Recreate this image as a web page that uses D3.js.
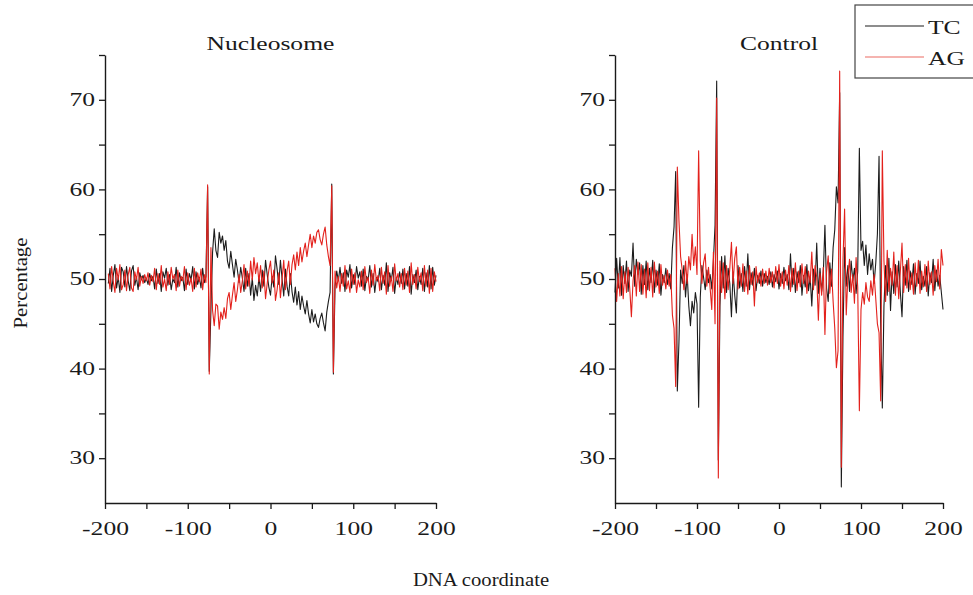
<!DOCTYPE html>
<html>
<head>
<meta charset="utf-8">
<script src="https://cdn.jsdelivr.net/npm/d3@7/dist/d3.min.js"></script>
<style>
  html, body { margin: 0; padding: 0; background: #fff; }
  body { position: relative; width: 973px; height: 595px; overflow: hidden; }
  svg { display: block; }
  #ytitle {
    position: absolute; left: 21px; top: 283px;
    font-family: 'Liberation Serif', 'Times New Roman', serif; font-size: 18px; line-height: 18px;
    color: #1a1a1a; white-space: nowrap;
    transform: translate(-50%, -50%) rotate(-90deg) scaleX(1.15);
  }
</style>
</head>
<body>
<script>
// ---------------- DATA ----------------
const xTickValues = [-200, -150, -100, -50, 0, 50, 100, 150, 200];
const xTickLabels = [-200, -100, 0, 100, 200];
const yTickValues = [30, 35, 40, 45, 50, 55, 60, 65, 70, 75];
const yTickLabels = [30, 40, 50, 60, 70];
const panelTitles = ["Nucleosome", "Control"];
const seriesNames = ["TC", "AG"];
const axisTitles = ["DNA coordinate", "Percentage"];

// Nucleosome: positions -196 .. 200, step 2
const nucStart = -196;
const nucTC = [
  49.5,51.2,48.6,50.4,51.6,49.0,50.2,48.5,51.3,50.8,49.1,51.4,49.8,48.7,50.9,51.5,49.3,50.2,48.8,50.7,
  49.9,50.4,49.6,50.1,49.4,50.6,49.8,50.3,48.9,51.1,49.5,50.6,48.6,50.8,50.1,51.2,49.3,50.5,48.8,50.0,
  49.6,51.3,49.1,50.7,49.8,50.2,48.7,51.1,49.4,50.6,49.9,51.4,48.9,50.8,49.4,50.2,49.0,51.2,49.6,50.3,
  60.3,39.7,
  46.5,53.0,55.6,53.2,52.4,55.2,54.0,54.8,53.2,54.3,
  52.0,51.2,53.1,51.6,50.2,52.2,51.0,49.6,51.3,50.1,
  48.6,51.2,49.2,50.6,48.2,50.1,47.6,49.3,48.1,50.2,
  48.6,51.0,49.2,52.1,50.5,49.1,48.2,50.3,49.1,52.6,
  51.1,49.4,52.1,50.0,48.1,51.1,49.2,48.1,50.6,48.6,
  47.4,49.1,47.1,48.6,46.6,48.1,47.0,46.1,47.6,46.1,
  45.1,46.6,45.2,46.1,45.0,44.6,45.6,46.2,45.1,44.2,
  46.3,47.5,48.5,
  60.6,39.4,
  49.2,50.9,49.8,51.3,49.5,50.7,48.6,51.0,50.2,51.6,49.0,50.5,49.4,51.4,50.1,50.8,49.2,51.1,48.7,50.3,
  49.9,51.5,49.1,50.6,48.5,50.2,49.7,51.2,48.8,50.4,49.3,51.8,48.6,50.7,49.8,51.3,48.4,50.2,49.4,50.8,
  49.5,51.1,48.9,50.6,49.2,51.4,48.3,50.5,49.6,51.0,48.8,50.3,49.4,51.2,48.6,50.7,49.1,51.5,48.9,51.3,
  49.3,50.4
];
const nucAG = [
  50.6,48.9,51.4,49.7,48.5,51.2,49.9,51.6,48.8,49.4,51.0,48.7,50.5,51.3,49.0,48.6,50.8,49.9,51.3,49.2,
  50.3,49.5,50.5,49.8,50.7,49.3,50.4,49.7,51.2,48.8,50.6,49.4,51.5,49.1,50.0,48.7,50.8,49.4,51.3,50.0,
  50.5,48.7,51.0,49.2,50.3,49.8,51.4,48.8,50.7,49.3,50.1,48.6,51.2,49.1,50.7,49.7,51.1,48.8,50.5,49.6,
  60.5,39.4,
  53.5,46.5,44.8,47.2,47.0,44.4,46.3,45.5,46.8,45.6,
  47.8,48.5,46.6,48.2,49.6,47.5,48.8,50.5,48.5,49.8,
  51.6,48.9,50.9,49.2,52.0,49.9,52.4,50.6,51.8,49.7,
  51.5,49.0,50.9,47.8,49.5,51.0,52.0,49.6,51.0,47.6,
  48.8,50.7,47.9,50.0,52.1,48.8,50.9,52.0,49.4,51.6,
  52.7,51.0,53.0,51.5,53.5,51.9,53.1,54.0,52.5,53.8,
  55.0,53.5,54.8,54.0,55.2,55.5,54.4,53.8,55.0,55.8,
  53.8,52.5,51.5,
  60.4,39.6,
  50.9,49.0,50.3,48.6,50.6,49.2,51.5,48.9,49.8,48.5,51.1,49.4,50.7,48.5,49.9,49.1,50.9,48.8,51.4,49.6,
  50.2,48.4,51.0,49.3,51.6,49.8,50.4,48.7,51.3,49.5,50.8,48.3,51.5,49.2,50.3,48.6,51.7,49.8,50.6,49.1,
  50.6,48.8,51.2,49.3,50.9,48.5,51.8,49.4,50.5,48.9,51.3,49.7,50.7,48.7,51.5,49.2,51.0,48.4,51.2,48.6,
  50.8,49.7
];

// Control: positions -200 .. 200, step 2
const ctlStart = -200;
const ctlTC = [
  48.5,52.3,49.0,52.4,48.2,51.5,49.5,52.0,48.6,51.0,
  50.3,54.0,49.2,52.2,50.5,51.8,48.3,51.5,49.4,52.0,
  48.8,51.2,49.6,52.1,48.5,51.0,49.3,51.7,48.2,50.5,
  49.6,51.2,49.4,50.6,48.9,
  53.5,55.8,62.0,37.5,43.0,51.0,
  49.5,51.5,48.0,50.5,47.0,44.8,47.5,46.2,48.5,47.2,
  35.7,
  48.0,51.5,50.2,48.8,51.0,49.6,50.5,48.9,52.0,56.0,
  72.1,29.8,
  47.0,52.5,49.0,52.6,48.5,51.2,49.5,45.8,50.8,48.2,
  46.2,51.5,49.0,50.6,48.6,51.4,49.2,52.8,48.8,50.7,
  49.3,51.2,48.7,50.4,49.5,50.9,49.2,50.6,49.6,50.3,
  49.4,50.8,49.1,50.5,49.7,50.9,48.9,50.6,49.5,51.3,
  49.8,50.5,48.8,52.8,49.1,51.2,48.5,50.8,49.6,51.5,
  48.2,50.4,49.1,51.6,48.7,50.2,47.0,51.1,49.3,54.0,
  48.4,51.2,48.6,50.5,56.0,49.0,47.5,51.8,49.2,53.5,
  55.5,60.3,58.5,
  70.8,26.8,
  43.5,53.5,49.2,51.5,48.6,52.0,49.8,51.2,48.4,50.9,
  64.6,
  53.2,54.2,51.5,53.8,50.5,52.8,51.0,52.2,49.5,51.8,55.0,
  63.7,45.0,35.6,47.0,
  51.5,48.2,52.3,46.5,50.8,48.4,51.6,49.1,52.0,48.5,
  45.8,51.4,49.3,52.1,48.6,50.9,49.4,51.7,48.3,50.6,
  49.5,52.0,48.8,50.3,49.2,51.4,48.1,50.7,49.6,52.2,
  48.7,51.0,49.2,50.4,48.5,46.6
];
const ctlAG = [
  51.2,47.5,50.6,48.1,51.4,47.8,50.8,48.5,51.3,48.9,
  45.8,49.8,51.5,48.1,51.9,48.6,51.6,48.3,51.1,47.9,
  51.8,48.7,51.3,48.0,51.9,49.1,50.9,48.4,51.6,49.3,
  50.4,48.9,51.0,49.2,50.5,
  46.0,44.5,38.0,62.5,56.5,52.5,
  51.0,48.8,52.0,49.5,52.5,51.0,55.0,51.5,53.6,50.5,
  64.3,
  52.0,49.5,51.8,52.8,49.2,51.3,49.0,46.6,53.0,45.0,
  70.2,27.8,
  52.0,48.5,51.8,47.8,51.5,48.8,51.2,54.1,49.5,52.3,
  53.6,48.9,51.3,49.2,51.7,48.6,50.9,48.3,51.5,49.4,
  50.8,47.0,51.4,49.6,50.7,49.2,51.1,49.5,50.9,49.3,
  51.2,49.6,50.8,49.0,51.4,49.5,51.6,49.2,50.8,48.9,
  51.0,49.3,51.5,48.6,51.2,49.4,51.8,48.7,50.9,49.1,
  51.7,49.5,51.4,48.4,50.9,49.6,53.0,48.8,51.5,50.2,
  45.4,50.6,48.2,51.3,43.8,50.8,52.6,48.4,51.1,47.5,
  44.5,40.1,42.0,
  73.2,29.0,
  52.0,57.8,46.0,50.3,52.2,48.5,50.5,47.3,52.4,49.1,
  35.3,
  46.6,48.5,47.2,49.6,48.0,47.5,49.8,48.2,50.5,47.8,45.0,
  44.0,36.4,64.3,52.0,
  47.5,53.2,48.6,51.2,49.3,53.0,48.2,51.5,47.8,50.9,
  54.0,48.5,51.6,49.0,52.3,48.8,50.7,48.3,51.8,49.2,
  52.1,48.4,50.9,49.1,51.6,48.6,52.0,49.4,50.8,48.2,
  51.5,49.7,52.2,48.9,53.3,51.5
];

// ---------------- DRAW ----------------
const W = 973, H = 595;
const FONT = "'Liberation Serif', 'Times New Roman', serif";
const SX = 1.42;
const colTC = "#1c1c1c", colAG = "#e3211c";

const svg = d3.select("body").append("svg").attr("width", W).attr("height", H);
const y = d3.scaleLinear().domain([25, 75]).range([503, 55]);

function widen(sel, factor) {
  sel.each(function () {
    if (!this.textContent) return;
    const w = this.getComputedTextLength();
    d3.select(this).attr("textLength", (w * factor).toFixed(1)).attr("lengthAdjust", "spacingAndGlyphs");
  });
  return sel;
}
function addText(g, x, yPos, txt, anchor, factor) {
  const t = g.append("text")
    .attr("x", x).attr("y", yPos)
    .attr("text-anchor", anchor || "middle")
    .attr("font-family", FONT).attr("font-size", 18).attr("fill", "#1a1a1a")
    .text(txt);
  widen(t, factor || SX);
  return t;
}

const panels = [
  { x0: 105, x1: 436, title: panelTitles[0], start: nucStart, tc: nucTC, ag: nucAG },
  { x0: 615, x1: 943, title: panelTitles[1], start: ctlStart, tc: ctlTC, ag: ctlAG }
];

const lineLayer = svg.append("g");
const axisLayer = svg.append("g");

panels.forEach(p => {
  const x = d3.scaleLinear().domain([-200, 200]).range([p.x0, p.x1]);
  const line = d3.line().x((d, i) => x(p.start + 2 * i)).y(d => y(d));

  lineLayer.append("path").datum(p.tc).attr("d", line)
    .attr("fill", "none").attr("stroke", colTC).attr("stroke-width", 1.1).attr("stroke-linejoin", "round");
  lineLayer.append("path").datum(p.ag).attr("d", line)
    .attr("fill", "none").attr("stroke", colAG).attr("stroke-width", 1.1).attr("stroke-linejoin", "round");

  const g = axisLayer.append("g");
  const yAxis = g.append("g").attr("transform", `translate(${p.x0},0)`)
    .call(d3.axisLeft(y).tickValues(yTickValues)
      .tickFormat(d => yTickLabels.includes(d) ? d : "")
      .tickSize(6).tickSizeOuter(0));
  const xAxis = g.append("g").attr("transform", `translate(0,${y(25)})`)
    .call(d3.axisBottom(x).tickValues(xTickValues)
      .tickFormat(d => xTickLabels.includes(d) ? d : "")
      .tickSize(6).tickSizeOuter(0));

  [xAxis, yAxis].forEach(a => {
    a.select(".domain").attr("stroke", "#1a1a1a").attr("stroke-width", 1.4);
    a.selectAll(".tick line").attr("stroke", "#1a1a1a").attr("stroke-width", 1.3);
    a.selectAll(".tick text").attr("font-family", FONT).attr("font-size", 18).attr("fill", "#1a1a1a");
  });
  xAxis.selectAll(".tick text").attr("y", 19);
  yAxis.selectAll(".tick text").attr("x", -10);
  widen(xAxis.selectAll(".tick text"), SX);
  widen(yAxis.selectAll(".tick text"), SX);

  addText(g, (p.x0 + p.x1) / 2, 50, p.title);
});

addText(svg, 481, 586, axisTitles[0], "middle", 1.15);

// y-axis title as an HTML element, rotated with CSS
d3.select("body").append("div").attr("id", "ytitle").text(axisTitles[1]);

// legend
const lg = svg.append("g");
lg.append("rect").attr("x", 855).attr("y", 5).attr("width", 130).attr("height", 73)
  .attr("fill", "#fff").attr("stroke", "#444").attr("stroke-width", 1.2);
[[colTC, 26, 34], ["#ec6b63", 57, 65]].forEach((s, i) => {
  lg.append("line").attr("x1", 865).attr("x2", 924).attr("y1", s[1]).attr("y2", s[1])
    .attr("stroke", s[0]).attr("stroke-width", 1.2);
  addText(lg, 928, s[2], seriesNames[i], "start");
});
</script>
</body>
</html>
